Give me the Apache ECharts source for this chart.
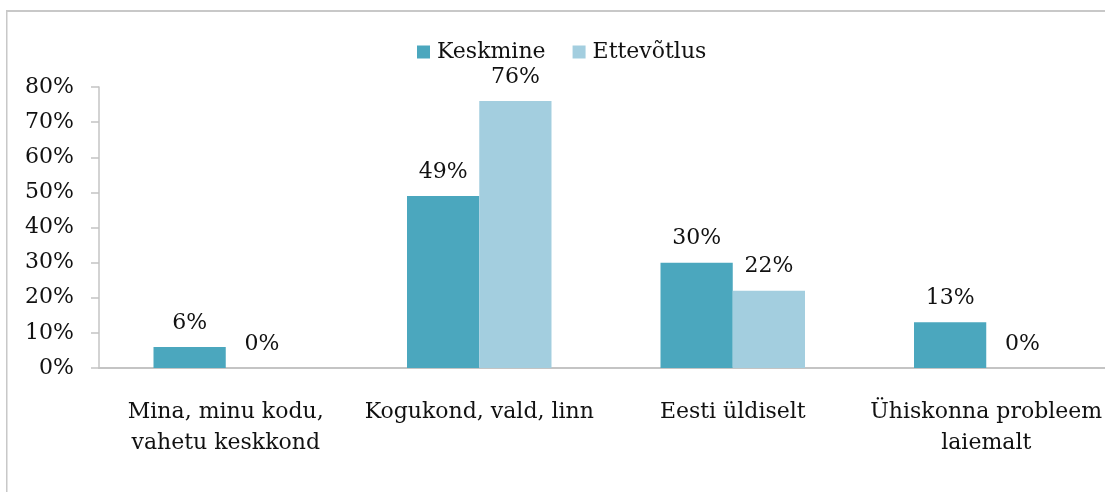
<!DOCTYPE html>
<html>
<head>
<meta charset="utf-8">
<script src="https://cdn.jsdelivr.net/npm/echarts@6/dist/echarts.min.js"></script>
<style>
  html, body { margin: 0; padding: 0; background: #fff; overflow: hidden; }
  #chart { width: 1105px; height: 492px; }
</style>
</head>
<body>
<div id="chart"></div>
<script>
// andmed
const categories = ['Mina, minu kodu,\nvahetu keskkond', 'Kogukond, vald, linn', 'Eesti üldiselt', 'Ühiskonna probleem\nlaiemalt']
const keskmine = [6, 49, 30, 13]
const ettevotlus = [0, 76, 22, 0]
const yTicks = [0, 10, 20, 30, 40, 50, 60, 70, 80]

const font = 'DejaVu Serif'
const fs = 22
const chart = echarts.init(document.getElementById('chart'))

chart.setOption({
  animation: false,
  color: ['#4ba7be', '#a3cedf'],
  textStyle: { fontFamily: font, color: '#111' },
  // raam: ainult ülemine ja vasak serv on pildil näha
  graphic: [
    {
      type: 'rect',
      shape: { x: 6, y: 10, width: 1099, height: 2 },
      style: { fill: '#c8c8c8' },
      silent: true
    },
    {
      type: 'rect',
      shape: { x: 6, y: 10, width: 1.5, height: 482 },
      style: { fill: '#c8c8c8' },
      silent: true
    }
  ],
  legend: {
    left: 412,
    top: 36,
    itemWidth: 13,
    itemHeight: 13,
    itemGap: 27,
    icon: 'rect',
    textStyle: { fontFamily: font, fontSize: fs, color: '#111', padding: [0, 0, 0, 2] },
    data: ['Keskmine', 'Ettevõtlus']
  },
  grid: {
    left: 99,
    right: -8,
    top: 87,
    bottom: 124,
    containLabel: false,
    outerBoundsMode: 'none'
  },
  xAxis: {
    type: 'category',
    data: categories,
    axisLine: { lineStyle: { color: '#c4c4c4', width: 2 } },
    axisTick: { length: 8, lineStyle: { color: '#c4c4c4', width: 1.5 } },
    axisLabel: {
      interval: 0,
      margin: 29,
      fontFamily: font,
      fontSize: fs,
      lineHeight: 31,
      color: '#111'
    }
  },
  yAxis: {
    type: 'value',
    min: yTicks[0],
    max: yTicks[yTicks.length - 1],
    interval: 10,
    splitLine: { show: false },
    axisLine: { show: true, lineStyle: { color: '#c4c4c4', width: 1.5 } },
    axisTick: { show: true, length: 8, lineStyle: { color: '#c4c4c4', width: 1.5 } },
    axisLabel: {
      margin: 25,
      fontFamily: font,
      fontSize: fs,
      color: '#111',
      formatter: '{value}%'
    }
  },
  series: [
    {
      name: 'Keskmine',
      type: 'bar',
      barGap: 0,
      barCategoryGap: '43%',
      data: keskmine,
      label: {
        show: true,
        position: 'top',
        distance: 13,
        fontFamily: font,
        fontSize: fs,
        color: '#111',
        formatter: '{c}%'
      }
    },
    {
      name: 'Ettevõtlus',
      type: 'bar',
      data: ettevotlus,
      label: {
        show: true,
        position: 'top',
        distance: 13,
        fontFamily: font,
        fontSize: fs,
        color: '#111',
        formatter: '{c}%'
      }
    }
  ]
})
</script>
</body>
</html>
